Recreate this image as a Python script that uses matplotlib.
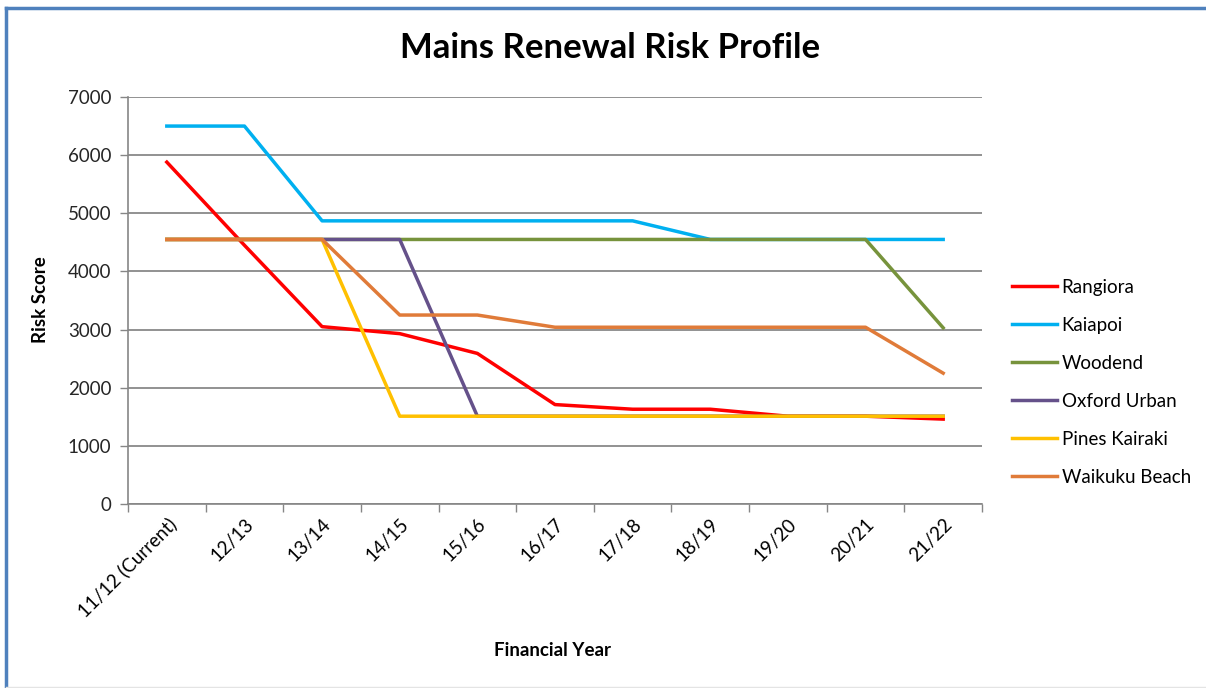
import numpy as np
import matplotlib.pyplot as plt
from matplotlib.lines import Line2D

years = ['11/12 (Current)', '12/13', '13/14', '14/15', '15/16', '16/17',
         '17/18', '18/19', '19/20', '20/21', '21/22']

rangiora = [5880, 4450, 3050, 2930, 2590, 1710, 1630, 1630, 1510, 1510, 1460]
kaiapoi = [6500, 6500, 4870, 4870, 4870, 4870, 4870, 4550, 4550, 4550, 4550]
woodend = [4550, 4550, 4550, 4550, 4550, 4550, 4550, 4550, 4550, 4550, 3030]
oxford_urban = [4550, 4550, 4550, 4550, 1510, 1510, 1510, 1510, 1510, 1510, 1510]
pines_kairaki = [4550, 4550, 4550, 1510, 1510, 1510, 1510, 1510, 1510, 1510, 1510]
waikuku_beach = [4550, 4550, 4550, 3250, 3250, 3040, 3040, 3040, 3040, 3040, 2250]

series = [
    ('Rangiora', rangiora, '#FF0000'),
    ('Kaiapoi', kaiapoi, '#00B0F0'),
    ('Woodend', woodend, '#77933C'),
    ('Oxford Urban', oxford_urban, '#65518A'),
    ('Pines Kairaki', pines_kairaki, '#FFC000'),
    ('Waikuku Beach', waikuku_beach, '#E07B39'),
]

plt.rcParams['font.family'] = ['Lato', 'DejaVu Sans']

W, H = 1206, 688
fig = plt.figure(figsize=(W / 100, H / 100), dpi=100)
fig.patch.set_facecolor('white')

# chart border (Excel style)
fig.add_artist(Line2D([5.5 / W, 5.5 / W], [0, 1 - 7.5 / H], transform=fig.transFigure,
                      color='#4F81BD', lw=2.5))
fig.add_artist(Line2D([5.5 / W, 1], [1 - 7.5 / H, 1 - 7.5 / H], transform=fig.transFigure,
                      color='#4F81BD', lw=2.5))
fig.add_artist(Line2D([5.5 / W, 1], [1.5 / H, 1.5 / H], transform=fig.transFigure,
                      color='#E4E4E4', lw=1))

ax = fig.add_axes([128 / W, 1 - 504 / H, (982 - 128) / W, (504 - 97) / H])

x = np.arange(len(years))
for name, vals, col in series:
    ax.plot(x, vals, color=col, lw=2.5, label=name, solid_joinstyle='round')

ax.set_xlim(-0.5, len(years) - 0.5)
ax.set_ylim(0, 7000)
ax.set_yticks(np.arange(0, 7001, 1000))
ax.set_xticks(np.arange(-0.5, len(years), 1))
ax.set_xticklabels([])
ax.set_xticks(x, minor=True)
ax.set_xticklabels(years, minor=True, rotation=45, ha='right', va='top',
                   rotation_mode='anchor', fontsize=13.5)
ax.tick_params(axis='x', which='minor', length=0, pad=8)
ax.tick_params(axis='x', which='major', length=6, color='#868686', width=1)
ax.tick_params(axis='y', length=6, color='#868686', width=1, labelsize=13.5, pad=6,
               labelcolor='#262626')

ax.grid(axis='y', color='#898989', lw=1.3)
ax.set_axisbelow(True)
for side in ['top', 'right']:
    ax.spines[side].set_visible(False)
for side in ['left', 'bottom']:
    ax.spines[side].set_color('#868686')
    ax.spines[side].set_linewidth(1.2)

fig.text(610 / W, 1 - 48 / H, 'Mains Renewal Risk Profile', ha='center', va='center',
         fontsize=25, fontweight='bold')
fig.text(40 / W, 1 - 300 / H, 'Risk Score', ha='center', va='center', rotation=90,
         fontsize=13.5, fontweight='bold')
fig.text(553 / W, 1 - 651 / H, 'Financial Year', ha='center', va='center',
         fontsize=13.5, fontweight='bold')

fig.legend(loc='upper left', bbox_to_anchor=(1012 / W, 1 - 279 / H), frameon=False,
           fontsize=13.5, handlelength=2.4, handletextpad=0.25, labelspacing=1.12,
           borderpad=0, borderaxespad=0)

plt.savefig('out.png', dpi=100, facecolor='white')
